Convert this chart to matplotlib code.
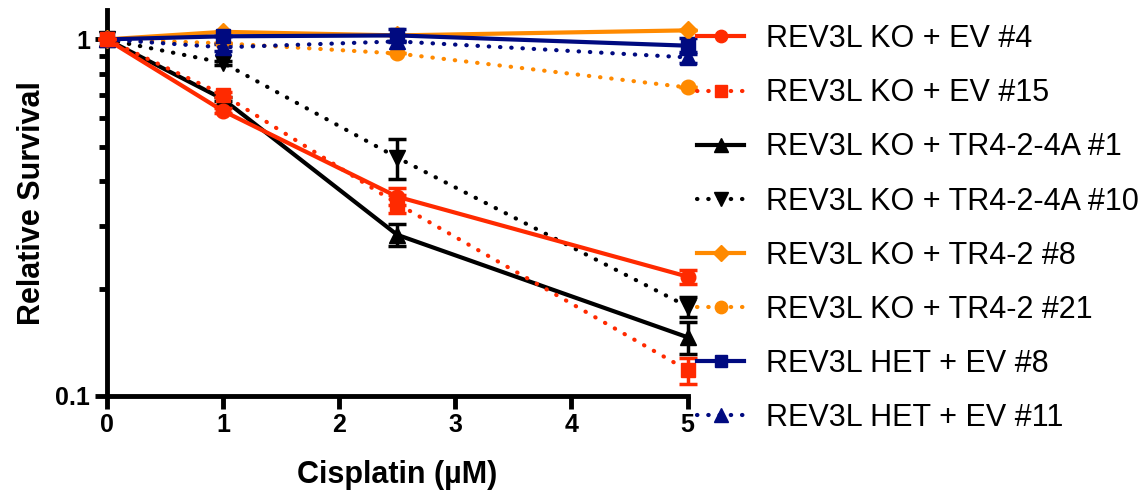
import numpy as np
import matplotlib
matplotlib.use("Agg")
import matplotlib.pyplot as plt
from matplotlib.lines import Line2D
from matplotlib.ticker import FixedLocator, NullFormatter

plt.rcParams['font.family'] = ['Liberation Sans', 'DejaVu Sans']

doses = [0, 1, 2.5, 5]

labels = [
    "REV3L KO + EV #4",
    "REV3L KO + EV #15",
    "REV3L KO + TR4-2-4A #1",
    "REV3L KO + TR4-2-4A #10",
    "REV3L KO + TR4-2 #8",
    "REV3L KO + TR4-2 #21",
    "REV3L HET + EV #8",
    "REV3L HET + EV #11",
]

ko_ev4 = [1.0, 0.63, 0.362, 0.216]
ko_ev15 = [1.0, 0.70, 0.346, 0.118]
ko_4a1 = [1.0, 0.68, 0.283, 0.146]
ko_4a10 = [1.0, 0.86, 0.466, 0.178]
ko_tr8 = [1.0, 1.05, 1.026, 1.06]
ko_tr21 = [1.0, 0.975, 0.913, 0.733]
het_ev8 = [1.0, 1.02, 1.026, 0.96]
het_ev11 = [1.0, 0.95, 0.987, 0.89]

err_ev4 = [0, 0.01, 0.02, 0.01]
err_ev15 = [0, 0.01, 0.02, 0.01]
err_4a1 = [0, 0.01, 0.02, 0.015]
err_4a10 = [0, 0.01, 0.06, 0.012]
err_tr8 = [0, 0.0, 0.0, 0.0]
err_tr21 = [0, 0.0, 0.0, 0.0]
err_het8 = [0, 0.0, 0.04, 0.05]
err_het11 = [0, 0.02, 0.0, 0.03]

series = [ko_ev4, ko_ev15, ko_4a1, ko_4a10, ko_tr8, ko_tr21, het_ev8, het_ev11]
errors = [err_ev4, err_ev15, err_4a1, err_4a10, err_tr8, err_tr21, err_het8, err_het11]

red = '#FF2A00'
orange = '#FF8A00'
navy = '#000A80'
colors = [red, red, 'black', 'black', orange, orange, navy, navy]
markers = ['o', 's', '^', 'v', 'D', 'o', 's', '^']
dotted = (0, (0.1, 2.6))
styles = ['-', dotted, '-', dotted, '-', dotted, '-', dotted]
zorders = [4, 6, 3, 3, 3, 3, 3, 3]

fig = plt.figure(figsize=(11.48, 4.93), dpi=100)
ax = fig.add_axes([0.093, 0.197, 0.506, 0.783])

handles = []
for y, e, c, m, ls, lab, z in zip(series, errors, colors, markers, styles, labels, zorders):
    ms = 10.5 if m in ('o', 's') else 11.5
    if m == 'D':
        ms = 9.5
    ax.errorbar(doses, y, yerr=e, color=c, marker=m, markersize=ms, linestyle=ls,
                linewidth=3, dash_capstyle='round', capsize=6.5, capthick=2.5,
                elinewidth=2.5, clip_on=False, zorder=z)
    handles.append(Line2D([], [], color=c, marker=m, markersize=ms * 0.85,
                          linestyle=ls, linewidth=3, dash_capstyle='round', label=lab))

ax.set_yscale('log')
ax.set_ylim(0.1, 1.21)
ax.set_xlim(0, 5)
ax.set_xticks([0, 1, 2, 3, 4, 5])
ax.yaxis.set_major_locator(FixedLocator([0.1, 1]))
ax.yaxis.set_minor_locator(FixedLocator([0.2, 0.3, 0.4, 0.5, 0.6, 0.7, 0.8, 0.9]))
ax.yaxis.set_minor_formatter(NullFormatter())
ax.set_yticklabels(['0.1', '1'])

for side in ['top', 'right']:
    ax.spines[side].set_visible(False)
for side in ['left', 'bottom']:
    ax.spines[side].set_linewidth(3.5)
ax.tick_params(axis='both', which='major', length=9, width=3.5, labelsize=18, pad=3)
ax.tick_params(axis='y', which='minor', length=6, width=3.5)
for t in ax.get_xticklabels() + ax.get_yticklabels():
    t.set_fontweight('bold')

ax.set_xlabel('Cisplatin (\u00b5M)', fontsize=22, fontweight='bold', labelpad=17)
ax.set_ylabel('Relative Survival', fontsize=22, fontweight='bold', labelpad=6)

fig.legend(handles=handles, loc='upper left', bbox_to_anchor=(0.607, 0.951),
           frameon=False, fontsize=22, handlelength=1.55, handletextpad=0.72,
           labelspacing=0.79, borderpad=0, borderaxespad=0)

fig.savefig('out.png', dpi=100)
